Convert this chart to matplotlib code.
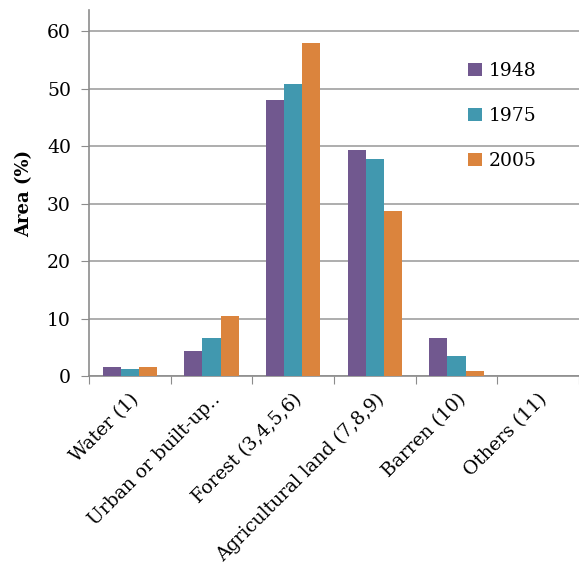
import numpy as np
import matplotlib.pyplot as plt

categories = ['Water (1)', 'Urban or built-up\u2025', 'Forest (3,4,5,6)',
              'Agricultural land (7,8,9)', 'Barren (10)', 'Others (11)']
years = ['1948', '1975', '2005']
area_1948 = [1.6, 4.35, 48.1, 39.4, 6.7, 0.0]
area_1975 = [1.3, 6.55, 50.9, 37.8, 3.4, 0.0]
area_2005 = [1.6, 10.4, 58.0, 28.8, 0.85, 0.0]
colors = ['#71588F', '#4198AF', '#DB843D']

plt.rcParams['font.family'] = ['DejaVu Serif']

fig = plt.figure(figsize=(5.79, 5.67), dpi=100)
ax = fig.add_axes([89 / 579, 1 - 376 / 567, 490 / 579, 366 / 567])

x = np.arange(len(categories))
w = 1 / 4.5
for i, (vals, c, lab) in enumerate(zip([area_1948, area_1975, area_2005], colors, years)):
    ax.bar(x + (i - 1) * w, vals, width=w, color=c, label=lab, zorder=3)

ax.set_xlim(-0.5, len(categories) - 0.5)
ax.set_ylim(0, 63.7)
ax.set_yticks(range(0, 61, 10))
ax.yaxis.grid(True, color='#A0A0A0', linewidth=1.2, zorder=0)

ax.set_xticks(np.arange(-0.5, len(categories), 1))
ax.set_xticklabels([])
ax.set_xticks(x, minor=True)
ax.set_xticklabels(categories, minor=True, rotation=45, ha='right',
                   rotation_mode='anchor', fontsize=13.5)
ax.tick_params(axis='x', which='minor', length=0, pad=10)
ax.tick_params(axis='x', which='major', length=6, color='#8C8C8C')
ax.tick_params(axis='y', length=6, color='#8C8C8C', labelsize=13.5, pad=7)

for s in ['top', 'right']:
    ax.spines[s].set_visible(False)
for s in ['left', 'bottom']:
    ax.spines[s].set_color('#8C8C8C')
    ax.spines[s].set_linewidth(1.2)

ax.set_ylabel('Area (%)', fontsize=13, fontweight='bold', labelpad=10)

ax.legend(loc='upper left', bbox_to_anchor=(0.74, 0.905), frameon=False,
          fontsize=13.5, handlelength=0.7, handleheight=0.7,
          handletextpad=0.4, labelspacing=1.45)

fig.savefig('out.png', dpi=100)
